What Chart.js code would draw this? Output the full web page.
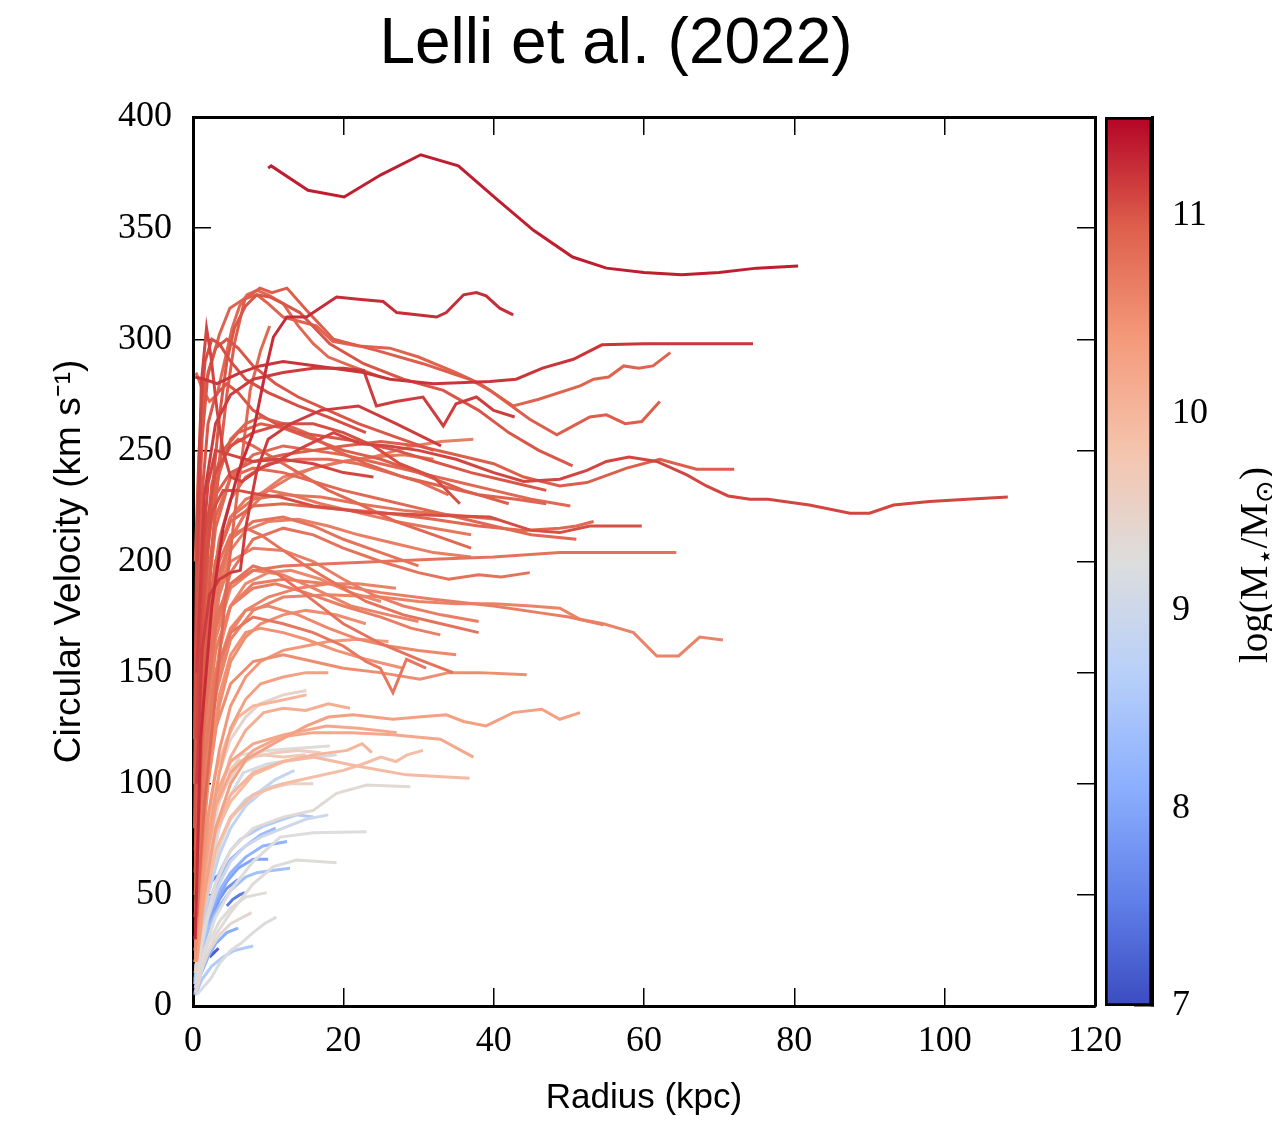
<!DOCTYPE html>
<html>
<head>
<meta charset="utf-8">
<title>Lelli et al. (2022)</title>
<script src="https://cdn.jsdelivr.net/npm/chart.js@4.4.1/dist/chart.umd.min.js"></script>
<style>
  body { margin: 0; background: #fff; }
  #figure { position: relative; width: 1272px; height: 1122px; overflow: hidden; }
  #rotationCurves { position: absolute; left: 0; top: 0; }
  #massColorbar { position: absolute; left: 1040px; top: 0; }
  #colorbarLabel {
    position: absolute; left: 1256px; top: 565px;
    transform: translate(-50%, -50%) rotate(-90deg);
    font-family: 'Liberation Serif', serif; font-size: 39px; white-space: nowrap; color: #000;
  }
  #colorbarLabel sub { font-size: 27px; vertical-align: -7px; }
</style>
</head>
<body>
<div id="figure">
  <canvas id="rotationCurves" width="1232" height="1122"></canvas>
  <canvas id="massColorbar" width="232" height="1122"></canvas>
  <div id="colorbarLabel">log(M<sub>⋆</sub>/M<sub>⊙</sub>)</div>
</div>
<script>
// --- data: log stellar mass and [R (kpc), V (km/s)] per galaxy ---
const logMstar = [
  11.35, 11.25, 11.2, 11.1, 11.1, 11.15, 11.05, 11.15, 11.05,
  10.95, 10.9, 11.0, 10.85, 10.85, 10.95, 10.65, 10.85, 10.75, 10.75, 10.75,
  10.6, 10.65, 10.85, 10.65, 10.5, 10.75, 10.7, 10.55, 10.65, 10.75, 10.6, 10.7, 10.85,
  10.95, 10.8, 10.9, 10.65, 10.55, 10.7, 10.75, 10.6, 10.5, 11.0, 10.85, 10.4, 10.45, 10.3, 11.0, 11.05,
  10.3, 10.2, 9.95, 10.1, 10.2, 10.0, 9.9, 10.0, 9.45, 9.3, 9.1, 9.35, 9.6, 9.7, 9.5,
  9.25, 9.3, 8.6, 8.4, 8.2, 9.2, 8.6, 9.3, 9.4, 7.6, 7.2, 7.8, 8.0, 8.8, 8.9, 8.3, 7.5, 7.4, 8.1, 9.0
];

const rotationCurves = [
  [[10,377],[10.4,378],[15.3,367],[20.1,364],[25,374],[30.3,383],[35.3,378],[40.4,363],[45.3,349],[50.5,337],[55,332],[60,330],[65,329],[70,330],[75,332],[80.5,333]],
  [[0.3,30],[1,120],[2.5,180],[4,215],[6,240],[8,258],[9.8,288],[10.7,301],[12.5,310],[15.1,310],[19.1,319],[22,318],[25.3,317],[27.1,312],[32.4,310],[33.7,312],[36,320],[37.7,321],[39,319.5],[40.8,314],[42.6,311]],
  [[0.3,283],[1.5,282],[3.2,280],[6.3,285],[8.9,288],[12,290],[16.4,288],[22.7,285],[26.2,282],[32,280],[39.5,281],[43,282],[46.5,287],[50.6,291],[54.4,297.5],[60,298],[67,298],[74.5,298]],
  [[0.5,120],[1.2,200],[2,235],[3,250],[5,248],[8,245],[11.6,246],[15,252],[18.7,258],[22.2,253],[26,252],[30,250],[35,246],[40,240],[44,236],[48.8,237],[52.4,241],[55,245],[58,247],[61.7,245],[65.7,239],[68.3,234],[71.2,229.5],[74.1,228],[76.5,228],[82,225.4],[87.4,221.7],[90,221.7],[93.2,225.4],[98,227],[103,228],[108.4,229]],
  [[0.6,200],[1.1,280],[1.8,305],[2.4,292],[3.2,268],[4,250],[5,238],[6.5,236],[9,242],[12,246],[16,244],[20,240],[24,238]],
  [[0.5,150],[1.5,230],[3,262],[5,275],[8,282],[12,285],[16,287],[20,287],[22.7,286],[24.4,270],[27,272],[30.6,274],[33.3,261],[35,271],[37.7,274],[40,268],[42.8,265]],
  [[0.8,150],[1.6,200],[2.5,222],[4,232],[6,232],[9,230],[11.6,229],[16,225],[23,222],[30,221],[39.5,220],[45,214],[48.8,213],[52.8,216],[56,216],[59.7,216]],
  [[0.5,100],[1.2,160],[2.2,185],[3.5,192],[5,195],[6.3,196],[7,215],[8.5,241],[10,255],[13,262],[17,268],[22,270],[27,262],[33,252]],
  [[0.6,140],[1.5,210],[3,240],[5,252],[8,258],[12,262],[16,262],[20,258],[24,252],[27.5,244],[32,238],[35.5,226]],

  [[0.5,60],[1.5,150],[2.5,205],[3.5,245],[4.5,275],[5.5,298],[6.9,318],[8.9,323],[10.5,321],[12.5,323],[15.1,313],[18.7,300],[24.4,295],[30.6,289],[36.8,282],[39.5,277],[44.8,264],[48.4,257],[50.6,261],[52.8,265],[55,266],[57.5,262],[59.7,263],[62.1,272]],
  [[0.3,200],[0.8,250],[1.5,278],[2.5,290],[3.5,302],[4.9,314],[6.7,318],[8.5,320],[10,316],[12,310],[16.4,306],[18.6,299],[22,297],[26.2,296],[30,292],[35,285],[38.2,280],[42.6,270],[46,273],[51.5,279],[53.3,282],[55.3,283],[57.3,288],[59.3,287],[61.2,288],[63.5,294]],
  [[0.5,100],[1.5,180],[2.5,230],[3.5,265],[4.5,290],[5.5,305],[7,315],[8.5,320],[10.2,319],[12,316],[14.2,312],[18.2,298],[22.7,289],[28,282],[33.3,277],[38,268],[42,258],[46,250],[50.5,243]],
  [[0.4,285],[1.2,278],[2.2,272],[3.2,275],[4.2,290],[5.2,305],[6.2,315],[7.2,320],[8.5,322],[10,320],[12,316],[14,306],[16,298],[18,292],[21,288],[25,283]],
  [[0.5,40],[1.5,90],[3,140],[4.5,190],[5.5,220],[6.7,252],[7.6,277],[9,295],[10.2,306]],
  [[0.5,120],[1.5,200],[3,230],[5,240],[8,245],[12,248],[16,250],[20,252],[25,254],[30,252],[35,248],[40,244],[44,238],[48.8,234],[52.4,235.5],[57.7,242],[62.1,246],[67,241.5],[72,241.5]],
  [[0.5,80],[1.5,140],[3,185],[5,210],[8,228],[12,238],[16,242],[20,245],[24,247],[29.3,252],[33,254],[37.3,255]],
  [[0.5,100],[1.5,170],[3,215],[5,238],[8,248],[12,252],[16,250],[20,248],[25,244],[30,240],[35,236],[40,232],[45,228],[50.2,225]],
  [[0.5,90],[1.5,160],[3,200],[5,220],[8,228],[12,230],[17,229],[22,226],[28,223],[34,221],[40.4,219]],
  [[0.5,70],[1.5,130],[3,170],[5,195],[8,210],[12,215],[16,212],[20,206],[25,200],[30,195],[34,192],[38,194],[41,193],[44.8,195]],
  [[0.5,80],[1.5,140],[3,175],[5,190],[8,196],[12,198],[18,199],[25,200],[32,201],[40,202],[48.8,204],[56,204],[64.3,204]],

  [[0.5,50],[1.5,100],[3,140],[5,165],[8,178],[12,184],[18,185],[25,184],[30,182],[35,181],[40,181],[45,180],[48.8,179],[51.5,174],[54.6,172],[58.6,168],[61.7,157.5],[64.6,157.5],[67.4,166],[70.5,164.7]],
  [[0.5,60],[1.5,120],[3,160],[5,180],[8,190],[12,192],[18,190],[25,186],[32,183],[40,180],[46,177],[50,175],[54.6,171.5]],
  [[0.5,90],[1.5,160],[3,200],[5,218],[8,225],[12,226],[18,224],[25,222],[32,219],[38,216],[44,214],[48.8,215],[51,216],[53.3,218]],
  [[0.5,60],[1.5,120],[3,160],[5,180],[8,188],[11,190],[15,186],[20,180],[25,175],[29,170],[32.9,167]],
  [[0.5,40],[1.5,90],[3,125],[5,145],[8,155],[12,158],[16,155],[20,152],[24.9,150],[30.2,147],[34,150],[38.2,150],[44.4,149]],
  [[0.5,70],[1.5,130],[3,170],[5,190],[8,198],[11,195],[15,185],[20,172],[25,163],[30,156],[34.6,150]],
  [[0.5,60],[1.5,110],[3,150],[5,168],[8,175],[12,172],[16,168],[20,162],[23,155],[24.9,152],[26.6,141],[28.4,156],[31,152]],
  [[0.5,50],[1.5,110],[3,150],[5,170],[7,178],[10,180],[14,176],[18,170],[22,165],[26,162],[30,160],[35,158]],
  [[0.5,70],[1.5,140],[3,180],[5,200],[8,206],[12,205],[16,200],[20,192],[24,185],[28,180],[33,176],[38,173]],
  [[0.5,80],[1.5,150],[3,190],[5,210],[8,218],[12,220],[16,216],[20,210],[25,204],[30,198]],
  [[0.5,60],[1.5,120],[3,165],[5,188],[8,196],[12,194],[16,188],[21,180],[26,176],[30,173]],
  [[0.5,90],[1.5,160],[3,200],[5,220],[7,228],[10,232],[13,230],[17,226],[22,222],[27,218],[32,215],[37,212]],
  [[0.5,110],[1.5,180],[3,220],[5,238],[8,242],[12,240],[16,236],[20,232],[25,228],[30,224],[35,220],[40,216],[45,212],[51,210]],

  [[0.3,60],[0.8,140],[1.5,200],[2.5,235],[4,250],[6,258],[9,262],[12,260],[16,255],[20,250],[25,246],[30,240],[36,232],[42,226]],
  [[0.3,50],[1,120],[2,175],[3.5,210],[5,228],[7,238],[10,244],[14,246],[18,246],[22,244],[26,240],[30,236],[34,230]],
  [[0.3,70],[1,160],[2,210],[3.5,240],[5,255],[7,262],[9,265],[12,262],[15,258],[19,250],[23,244],[28,238],[33,234],[38,230],[43,228],[47,226]],
  [[0.3,40],[1,100],[2,150],[3.5,185],[5,205],[7,214],[10,218],[14,219],[18,216],[22,212],[27,208],[32,204],[37,202]],
  [[0.3,30],[1,80],[2,125],[3.5,160],[5,180],[7,190],[10,195],[13,196],[17,192],[21,186],[25,182]],
  [[0.3,40],[1,100],[2,150],[3.5,190],[5,210],[7,222],[10,232],[13,238],[16,242],[20,245],[24,247],[28,248],[32,246]],
  [[0.3,50],[1,120],[2,170],[3.5,200],[5,212],[7,215],[9,212],[12,205],[15,198],[19,190],[23,182],[28,176],[33,172],[38,168]],
  [[0.3,30],[1,70],[2,115],[3.5,150],[5,168],[7,178],[10,184],[14,188],[18,190],[22,190],[27,188]],
  [[0.3,25],[1,60],[2,100],[3.5,135],[5,155],[7,166],[9,172],[12,176],[15,178],[19,176],[23,172]],
  [[0.2,80],[0.6,170],[1.2,230],[2,262],[3,275],[4.5,280],[6,276],[8,268],[11,262],[14,258],[18,256],[22,254],[27,250],[32,245],[37,240],[42,236],[47,232]],
  [[0.3,60],[0.9,140],[1.8,200],[3,235],[4.5,250],[6,255],[8,252],[11,246],[14,240],[18,232],[22,226],[27,218],[32,212],[37,206]],
  [[0.3,20],[1,50],[2,85],[3.5,115],[5,135],[7,148],[9,155],[12,160],[15,162],[18,164],[22,165],[26,164]],
  [[0.3,25],[1,65],[2,105],[3.5,140],[5,158],[7,168],[9,170],[12,168],[15,165],[19,160],[23,156],[28,152]],
  [[0.3,20],[1,45],[2,75],[3.5,105],[5,125],[7,138],[9,145],[12,148],[15,150],[18,150]],
  [[0.2,100],[0.6,200],[1.2,255],[2,285],[3,296],[4.5,300],[6,296],[8,288],[11,280],[14,274],[18,268],[22,262],[27,256],[32,250]],
  [[0.2,120],[0.5,210],[1,265],[1.6,290],[2.5,300],[3.5,298],[5,290],[7,282],[10,276],[14,270],[18,265],[23,258]],

  [[0.5,20],[1.5,50],[3,80],[5,100],[7.1,111],[10.7,118],[15.1,126],[18,130],[21.3,131],[26.6,129],[30,130],[33.7,131],[36,128],[39,126],[42.6,132],[46.4,133.5],[48.8,129],[51.5,132]],
  [[0.5,30],[1.5,60],[3,90],[5,105],[8,115],[11.6,121],[16,123],[21,123],[26.6,122],[32.9,120],[37.3,112]],
  [[0.5,25],[1.5,55],[3,78],[5,92],[8,104],[12,110],[16,112],[21.8,108],[28.4,104],[36.8,102.5]],
  [[0.5,25],[1.5,60],[3,90],[5,112],[7,124],[9.4,132],[12,134],[15,133],[18,136],[20.9,134]],
  [[0.5,30],[1.5,65],[3,95],[5,110],[8,118],[12,122],[17.8,126],[22,125],[27.1,123]],
  [[0.5,25],[1.5,55],[3,80],[5,95],[8,105],[12,110],[16,113],[20.5,115],[22.5,118],[23.8,114]],
  [[0.5,20],[1.5,45],[3,70],[5,85],[8,95],[12,100],[16,103],[20,106],[22.7,109],[25,112],[27,110],[28.5,113],[30.6,115]],
  [[0.3,25],[1,55],[2,85],[3,105],[4.5,120],[6,130],[8,135],[11,137],[15.1,140]],
  [[0.3,20],[1,50],[2,80],[3.5,105],[5,120],[7,130],[8.9,136],[12,140],[15.1,142]],
  [[0.3,20],[1,45],[2,70],[3.5,92],[5,105],[6.3,113],[10,115],[14,116],[18.2,117]],
  [[0.3,15],[1,35],[2,58],[3.5,80],[5,95],[6.7,105],[10,109],[14,111],[19.1,113]],
  [[0.5,15],[1.5,35],[3,55],[5,70],[8,80],[12,85],[16,88],[19.1,95.7],[23.1,99.4],[28.9,98.7]],
  [[0.3,20],[1,45],[2,70],[3,88],[4.5,100],[6,108],[8,112],[11,114],[14,115],[17,114]],
  [[0.3,25],[1,55],[2,80],[3,95],[4.5,105],[6,110],[9,113],[12,112],[15,113]],
  [[0.3,15],[1,35],[2,55],[3.5,72],[5,84],[7,92],[10,98],[13,100],[16,100]],

  [[0.5,10],[1.5,25],[3,40],[5,52],[8,65],[11.6,76],[16,78],[23.1,78.4]],
  [[0.5,8],[1.5,20],[3,32],[5,42],[8,55],[10.7,62.7],[13.8,65.7],[19.1,64.5]],
  [[0.3,12],[1,28],[2,45],[3.5,60],[5,70],[6.3,75],[9.4,81],[12,84],[13.8,86],[16,85]],
  [[0.3,10],[1,22],[2,35],[3.5,45],[5,52],[7,58],[8.5,60],[10.5,61],[12.9,62]],
  [[0.3,10],[1,25],[2,40],[3.5,52],[5,60],[7,67],[9.3,72],[12.5,74]],
  [[0.5,5],[1.5,9],[2.3,12],[3.5,19],[5,25],[6.3,28],[8,33],[9.5,37],[11.1,40]],
  [[0.3,5],[1.2,12],[2.5,18],[4,22],[5.5,25],[8,27]],
  [[0.3,8],[1,18],[2,28],[3.5,38],[5,44],[7,49],[9.8,51]],
  [[0.3,6],[1,15],[2,24],[3.5,32],[5,37],[7.8,42]],
  [[0.2,10],[0.6,25],[1,38],[1.5,48],[2.2,55],[3,58],[4,60]],
  [[2.2,22],[2.8,24],[3.4,26]],
  [[0.3,8],[1,20],[1.8,32],[2.5,40],[3.5,48],[4.5,53],[6,57]],
  [[0.3,10],[1,22],[2,36],[3,46],[4.5,56],[6,62],[8,66],[10,66]],
  [[0.3,12],[1,30],[2,50],[3.5,68],[5,80],[7,90],[9.8,98],[12,100]],
  [[0.3,15],[1,35],[2,55],[3.5,72],[5,85],[7,93],[9,97],[11,102],[13.5,106]],
  [[0.3,12],[1,28],[2,45],[3.5,58],[5,66],[7,72],[9,77],[11,80]],
  [[4.5,45],[5.3,48],[6.2,50],[6.9,51]],
  [[0.2,5],[0.6,12],[1,18],[1.5,22]],
  [[0.3,6],[1,14],[2,22],[3,28],[4.5,33],[6,35]],
  [[0.3,10],[1,24],[2,40],[3.5,55],[5,65],[7,72],[9,76],[12,80],[15,84],[18,86]]
];

// axis ranges and tick steps
const radiusTicks = [0, 20, 40, 60, 80, 100, 120];
const velocityTicks = [0, 50, 100, 150, 200, 250, 300, 350, 400];
const massTicks = [7, 8, 9, 10, 11];
const massMin = 7, massMax = 11.5;

// matplotlib "coolwarm", sampled
const coolwarmStops = [
  [0.0, [59, 76, 192]],
  [0.125, [98, 130, 234]],
  [0.25, [141, 176, 254]],
  [0.375, [184, 208, 249]],
  [0.5, [221, 221, 221]],
  [0.625, [245, 196, 173]],
  [0.75, [244, 154, 123]],
  [0.875, [222, 96, 76]],
  [1.0, [180, 4, 38]]
];

function coolwarm(t) {
  t = Math.min(1, Math.max(0, t));
  for (let i = 1; i < coolwarmStops.length; i++) {
    const [t1, c1] = coolwarmStops[i];
    const [t0, c0] = coolwarmStops[i - 1];
    if (t <= t1) {
      const f = (t - t0) / (t1 - t0);
      const c = c0.map((v, k) => Math.round(v + (c1[k] - v) * f));
      return `rgb(${c[0]},${c[1]},${c[2]})`;
    }
  }
  return 'rgb(180,4,38)';
}

const serif = "'Liberation Serif', 'DejaVu Serif', serif";
const sans = "'Liberation Sans', Arial, sans-serif";
Chart.defaults.font.family = serif;
Chart.defaults.color = '#000';

const tickLen = -18; // negative length = ticks pointing into the plot

function frameAxis(extra) {
  return Object.assign({
    type: 'linear',
    z: 1,
    grid: { drawOnChartArea: false, drawTicks: true, tickLength: tickLen, color: '#000', lineWidth: 1.5 },
    border: { display: true, color: '#000', width: 3 },
  }, extra);
}

const datasets = rotationCurves.map((curve, i) => ({
  data: curve.map(([r, v]) => ({ x: r, y: v })),
  borderColor: coolwarm((logMstar[i] - massMin) / (massMax - massMin)),
  borderWidth: 3,
  pointRadius: 0,
  showLine: true,
  tension: 0,
  order: Math.round((12 - logMstar[i]) * 100)
}));

new Chart(document.getElementById('rotationCurves'), {
  type: 'scatter',
  data: { datasets: datasets },
  options: {
    responsive: false,
    animation: false,
    devicePixelRatio: 1,
    layout: { padding: 0 },
    plugins: {
      legend: { display: false },
      tooltip: { enabled: false },
      title: {
        display: true,
        text: 'Lelli et al. (2022)',
        color: '#000',
        font: { family: sans, size: 64, weight: 'normal' },
        padding: { top: 7, bottom: 33.2 }
      }
    },
    scales: {
      x: frameAxis({
        position: 'bottom',
        min: radiusTicks[0], max: radiusTicks[radiusTicks.length - 1],
        ticks: { stepSize: 20, autoSkip: false, maxRotation: 0, padding: 32, font: { size: 36 } },
        title: { display: true, text: 'Radius (kpc)', font: { family: sans, size: 35 }, padding: { top: 0, bottom: 3 } },
        afterFit: (scale) => { scale.height = 116; }
      }),
      y: frameAxis({
        position: 'left',
        min: velocityTicks[0], max: velocityTicks[velocityTicks.length - 1],
        ticks: { stepSize: 50, autoSkip: false, padding: 39, font: { size: 36 } },
        title: { display: true, text: 'Circular Velocity (km s⁻¹)', font: { family: sans, size: 37 }, padding: { top: 48, bottom: 0 } },
        afterFit: (scale) => { scale.width = 193; }
      }),
      xTop: frameAxis({
        position: 'top',
        min: radiusTicks[0], max: radiusTicks[radiusTicks.length - 1],
        ticks: { display: false, stepSize: 20 },
        afterFit: (scale) => { scale.height = 0; }
      }),
      yRight: frameAxis({
        position: 'right',
        min: velocityTicks[0], max: velocityTicks[velocityTicks.length - 1],
        ticks: { display: false, stepSize: 50 },
        afterFit: (scale) => { scale.width = 137; }
      })
    }
  }
});

// --- colour bar: one floating bar spanning the mass range, filled with the colormap ---
function colormapFill(context) {
  const chart = context.chart;
  const area = chart.chartArea;
  if (!area) return null;
  const yScale = chart.scales.y;
  const g = chart.ctx.createLinearGradient(0, yScale.getPixelForValue(massMin), 0, yScale.getPixelForValue(massMax));
  coolwarmStops.forEach(([t, c]) => g.addColorStop(t, `rgb(${c[0]},${c[1]},${c[2]})`));
  return g;
}

new Chart(document.getElementById('massColorbar'), {
  type: 'bar',
  data: {
    labels: ['logM'],
    datasets: [{
      data: [[massMin, massMax]],
      backgroundColor: colormapFill,
      borderColor: '#000',
      borderWidth: 3,
      borderSkipped: false,
      barPercentage: 1,
      categoryPercentage: 1
    }]
  },
  options: {
    responsive: false,
    animation: false,
    devicePixelRatio: 1,
    layout: { padding: { left: 65, right: 0, top: 117, bottom: 116 } },
    plugins: { legend: { display: false }, tooltip: { enabled: false } },
    scales: {
      x: { display: false },
      y: frameAxis({
        position: 'right',
        min: massMin, max: massMax,
        ticks: { stepSize: 1, includeBounds: false, padding: 38, font: { size: 36 } },
        afterFit: (scale) => { scale.width = 120; }
      })
    }
  }
});
</script>
</body>
</html>
